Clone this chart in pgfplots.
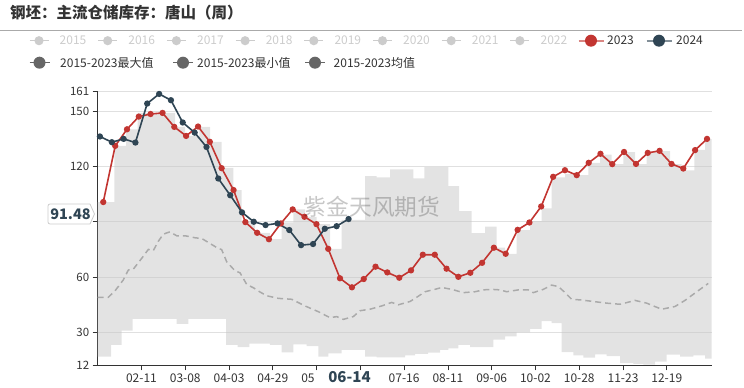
\documentclass[border=0pt]{standalone}
\usepackage{pgfplots}
\pgfplotsset{compat=1.18}
\usepackage{fontspec}
\setmainfont{Noto Sans CJK SC}
\definecolor{cText}{HTML}{333333}
\definecolor{cRed}{HTML}{C23531}
\definecolor{cNavy}{HTML}{2F4554}
\definecolor{cBand}{RGB}{200,200,200}
\definecolor{cMean}{HTML}{AAAAAA}
\definecolor{cGrid}{HTML}{E0E0E0}
\definecolor{cLegGray}{HTML}{CCCCCC}
\definecolor{cLegDark}{HTML}{666666}
\definecolor{cLine}{HTML}{AAAAAA}
\begin{document}
\begin{tikzpicture}
\path[use as bounding box] (0pt,0pt) rectangle (744pt,388pt);
% title
\node[anchor=west, inner sep=0pt, text=cText, font=\fontsize{15.5}{18}\selectfont\bfseries] at (10pt,375pt) {钢坯：主流仓储库存：唐山（周）};
\draw[cLine, line width=0.8pt] (0pt,358pt) -- (742pt,358pt);
% legend row 1
\foreach \c/\t in {39/2015,107.7/2016,176.4/2017,245.1/2018,313.8/2019,382.5/2020,451.2/2021,519.9/2022}{
  \draw[cLegGray, line width=1.6pt] (\c pt-9.5pt,347.3pt) -- (\c pt+9.5pt,347.3pt);
  \fill[cLegGray] (\c pt,347.3pt) circle (4.6pt);
  \node[anchor=west, inner sep=0pt, text=cLegGray, font=\fontsize{12}{14}\selectfont] at (\c pt+20.5pt,347.3pt) {\t};
}
\draw[cRed!60!white, line width=1.8pt] (578.5pt,347.3pt) -- (603.5pt,347.3pt);
\fill[cRed] (591pt,347.3pt) circle (6pt);
\node[anchor=west, inner sep=0pt, text=cText, font=\fontsize{12}{14}\selectfont] at (607pt,347.3pt) {2023};
\draw[cNavy!60!white, line width=1.8pt] (646.5pt,347.3pt) -- (671.5pt,347.3pt);
\fill[cNavy] (659pt,347.3pt) circle (6pt);
\node[anchor=west, inner sep=0pt, text=cText, font=\fontsize{12}{14}\selectfont] at (676pt,347.3pt) {2024};
% legend row 2
\foreach \c/\x/\t in {39.5/60/2015-2023最大值,183/197/2015-2023最小值,315/333.5/2015-2023均值}{
  \draw[cLegDark, line width=1.6pt] (\c pt-10pt,325.3pt) -- (\c pt+10pt,325.3pt);
  \fill[cLegDark] (\c pt,325.3pt) circle (6pt);
  \node[anchor=west, inner sep=0pt, text=cText, font=\fontsize{12}{14}\selectfont] at (\x pt,325.3pt) {\t};
}
\begin{axis}[
  at={(97.7pt,22.6pt)}, anchor=south west,
  scale only axis, width=614pt, height=274.4pt,
  xmin=0, xmax=364.67, ymin=12, ymax=161,
  axis x line*=bottom, axis y line*=left,
  axis line style={draw=cText, line width=0.8pt, -},
  xtick={26,52,...,338},
  xticklabels={02-11,03-08,04-03,04-29,\makebox[0pt][r]{05\kern2pt},{},07-16,08-11,09-06,10-02,10-28,11-23,12-19},
  ytick={12,30,60,90,120,150,161},
  yticklabels={12,30,60,{},120,150,161},
  ymajorgrids, major grid style={draw=cGrid, line width=0.8pt},
  tick align=outside, major tick length=5pt,
  tick style={draw=cText, line width=0.8pt},
  ticklabel style={font=\fontsize{12}{14}\selectfont, text=cText},
  yticklabel style={font=\fontsize{11.5}{14}\selectfont},
  /pgf/number format/assume math mode=true,
  clip=true,
]
% min-max band
\addplot[draw=none, fill=cBand, fill opacity=0.5] coordinates {
(0,100.7) (9.86,100.7) (9.86,131.2) (16.81,131.2) (16.81,140.2) (23.76,140.2) (23.76,149.1) (45.91,149.1) (45.91,141.5) (51.85,141.5) (51.85,136.6) (60.34,136.6) (60.34,141.5) (66.70,141.5) (66.70,133.4) (73.65,133.4) (73.65,119.3) (80.54,119.3) (80.54,107.2) (85.53,107.2) (85.53,90.5) (93.43,90.5) (93.43,84) (102.33,84) (102.33,80.5) (109.28,80.5) (109.28,89.6) (116.17,89.6) (116.17,96.7) (123.12,96.7) (123.12,92.7) (130.07,92.7) (130.07,88.7) (137.97,88.7) (137.97,75.3) (144.92,75.3) (144.92,91) (158.76,91) (158.76,114.8) (165.71,114.8) (165.71,114.1) (173.61,114.1) (173.61,118.5) (187.44,118.5) (187.44,113.6) (193.98,113.6) (193.98,119.7) (208.23,119.7) (208.23,109.3) (214.59,109.3) (214.59,95.8) (222.13,95.8) (222.13,83.8) (230.03,83.8) (230.03,87.3) (236.98,87.3) (236.98,76.0) (241.91,76.0) (241.91,72.5) (248.86,72.5) (248.86,85.5) (256.76,85.5) (256.76,90.4) (263.71,90.4) (263.71,97.3) (269.64,97.3) (269.64,114.1) (277.54,114.1) (277.54,116) (284.49,116) (284.49,115.3) (291.38,115.3) (291.38,122.0) (298.33,122.0) (298.33,126.5) (305.28,126.5) (305.28,121.3) (312.17,121.3) (312.17,127.8) (319.12,127.8) (319.12,121.3) (326.07,121.3) (326.07,127.8) (332.96,127.8) (332.96,128.4) (339.91,128.4) (339.91,121.3) (346.86,121.3) (346.86,117.9) (354.34,117.9) (354.34,129.0) (360.70,129.0) (360.70,134.8) (364.67,134.8)
(364.67,15.7) (360.70,15.7) (360.70,17.4) (353.74,17.4) (353.74,16.8) (345.85,16.8) (345.85,17.8) (337.95,17.8) (337.95,14.1) (331.00,14.1) (331.00,12.4) (324.05,12.4) (324.05,12.8) (318.11,12.8) (318.11,13.3) (310.21,13.3) (310.21,17.0) (302.31,17.0) (302.31,18.0) (295.36,18.0) (295.36,16.2) (288.41,16.2) (288.41,17.4) (282.47,17.4) (282.47,19.2) (275.58,19.2) (275.58,35.0) (269.64,35.0) (269.64,36.0) (263.71,36.0) (263.71,31.9) (256.76,31.9) (256.76,30.0) (248.86,30.0) (248.86,27.8) (241.91,27.8) (241.91,26.0) (234.96,26.0) (234.96,21.9) (221.12,21.9) (221.12,23.1) (214.17,23.1) (214.17,21.3) (208.23,21.3) (208.23,20.4) (203.30,20.4) (203.30,19.0) (196.17,19.0) (196.17,18.3) (188.45,18.3) (188.45,17.4) (182.51,17.4) (182.51,16.3) (165.71,16.3) (165.71,16.7) (158.76,16.7) (158.76,20.4) (144.92,20.4) (144.92,18.5) (136.96,18.5) (136.96,16.7) (131.02,16.7) (131.02,22.5) (124.13,22.5) (124.13,23.4) (116.17,23.4) (116.17,19.1) (109.28,19.1) (109.28,23.2) (102.33,23.2) (102.33,23.8) (90.04,23.8) (90.04,21.9) (83.15,21.9) (83.15,23.1) (76.20,23.1) (76.20,37.2) (53.81,37.2) (53.81,34.5) (46.92,34.5) (46.92,37.2) (20.79,37.2) (20.79,30.9) (14.25,30.9) (14.25,23.1) (7.90,23.1) (7.90,16.7) (0,16.7)
} -- cycle;
% mean
\addplot[cMean, line width=1.5pt, dash pattern=on 6pt off 4pt, no markers] coordinates {
(0,49.0) (6.3,49.0) (10.3,52.5) (15.2,58.4) (18.2,63.8) (21.1,64.2) (26.1,70.1) (30.1,75.0) (33.0,74.3) (36.0,79.4) (39.0,83.3) (42.9,84.5) (46.9,82.4) (51.9,82.4) (57.8,81.3) (61.8,80.9) (66.7,78.2) (71.6,75.5) (73.6,74.9) (76.6,68.3) (81.5,63.4) (84.5,62.3) (88.5,56.0) (93.0,53.9) (94.4,52.9) (100.4,49.8) (107.3,48.4) (115.2,47.9) (123.1,44.3) (131.0,41.2) (138.0,37.9) (141.9,38.5) (145.9,37.0) (151.8,38.5) (155.8,41.7) (161.7,42.5) (168.7,44.3) (174.6,46.2) (178.5,44.9) (185.5,46.7) (188.5,48.4) (194.4,52.0) (200.3,53.3) (204.3,54.3) (210.3,53.3) (217.1,51.5) (224.1,52.0) (229.0,53.0) (234.0,53.3) (238.9,53.0) (242.9,52.0) (249.8,53.0) (255.7,53.0) (258.7,51.5) (264.7,53.3) (269.6,55.6) (273.6,54.8) (277.5,51.6) (281.5,47.9) (287.5,47.5) (294.4,46.7) (302.3,45.8) (310.2,45.2) (314.2,46.1) (319.1,47.3) (326.1,45.8) (330.0,44.3) (335.0,42.5) (342.9,44.0) (348.8,47.3) (355.8,52.0) (362.6,56.5)
};
% 2023
\addplot[cRed, line width=1.6pt, mark=*, mark size=2.3pt, mark options={fill=cRed, draw=cRed, solid}] coordinates {
(3.3,100.7) (10.4,131.2) (17.4,140.2) (24.4,147.1) (31.4,148.5) (38.5,149.1) (45.5,141.5) (52.5,136.6) (59.6,141.7) (66.6,133.4) (73.6,119.1) (80.7,107.2) (87.7,89.8) (94.7,84.0) (101.7,80.5) (108.8,89.1) (115.8,96.7) (122.8,92.7) (129.9,88.7) (136.9,75.3) (143.9,59.3) (151.0,54.4) (158.0,58.9) (165.0,65.6) (172.0,62.5) (179.1,59.6) (186.1,63.6) (193.1,72.1) (200.2,72.1) (207.2,64.5) (214.2,60.1) (221.3,62.3) (228.3,67.7) (235.3,75.9) (242.3,72.6) (249.4,85.6) (256.4,89.6) (263.4,98.3) (270.5,114.4) (277.5,118.0) (284.5,115.3) (291.6,122.0) (298.6,126.9) (305.6,121.3) (312.6,127.9) (319.7,121.4) (326.7,127.4) (333.7,128.5) (340.8,121.4) (347.8,118.9) (354.8,128.9) (361.9,135.0)
};
% 2024
\addplot[cNavy, line width=1.6pt, mark=*, mark size=2.3pt, mark options={fill=cNavy, draw=cNavy, solid}] coordinates {
(1.3,136.3) (8.4,133.2) (15.4,135.0) (22.4,133.0) (29.4,154.2) (36.5,159.4) (43.5,156.0) (50.5,143.9) (57.6,138.4) (64.6,130.6) (71.6,113.5) (78.7,104.4) (85.7,95.1) (92.7,90.0) (99.7,88.2) (106.8,89.1) (113.8,85.5) (120.8,77.3) (127.9,77.9) (134.9,86.2) (141.9,87.6) (149.0,91.48)
};
\end{axis}
% watermark
\node[text=black, opacity=0.22, font=\fontsize{22.7}{26}\selectfont, inner sep=0pt] at (372pt,181pt) {紫金天风期货};
% axis pointer labels
\fill[white] (48pt,184pt) [rounded corners=2pt] -- (48pt,164pt) [sharp corners] -- (90pt,164pt) -- (94.5pt,174pt) -- (90pt,184pt) [rounded corners=2pt] -- cycle;
\draw[cLegGray, line width=0.8pt, rounded corners=2pt] (90pt,184pt) -- (48pt,184pt) -- (48pt,164pt) -- (90pt,164pt);
\draw[cLegGray, line width=0.8pt] (90pt,164pt) -- (94.5pt,174pt) -- (90pt,184pt);
\node[text=cNavy, font=\fontsize{14.5}{16}\selectfont\bfseries, inner sep=0pt] at (70.5pt,174pt) {91.48};
\node[text=cNavy, font=\fontsize{15}{17}\selectfont\bfseries, inner sep=0pt] at (349.5pt,10.5pt) {06-14};
\end{tikzpicture}
\end{document}
